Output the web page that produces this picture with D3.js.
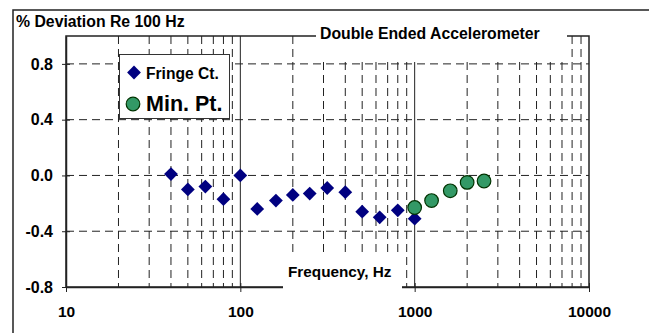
<!DOCTYPE html>
<html lang="en">
<head>
  <meta charset="UTF-8" />
  <title>Double Ended Accelerometer</title>
  <style>
    body {
      margin: 0;
      background: #fff;
    }

    text {
      font-family: 'Liberation Sans', Arial, sans-serif;
      font-weight: bold;
      fill: #000;
    }

    .grid {
      stroke: #222;
      stroke-width: 1;
      stroke-dasharray: 8, 5;
    }

    .major {
      stroke: #222;
      stroke-width: 1;
    }

    .frame {
      stroke: #222;
      stroke-width: 1.5;
      fill: none;
    }
  </style>
  <script src="https://d3js.org/d3.v7.min.js"></script>
</head>
<body>
  <svg id="chart"></svg>

  <script>
    // data
    const fringeFreq = [40, 50, 63, 80, 100, 125, 160, 200, 250, 315, 400, 500, 630, 800, 1000];
    const fringeDev = [0.01, -0.10, -0.08, -0.17, 0.00, -0.24, -0.18, -0.14, -0.13, -0.09, -0.12, -0.26, -0.30, -0.25, -0.31];
    const minFreq = [1000, 1250, 1600, 2000, 2500];
    const minDev = [-0.23, -0.18, -0.11, -0.05, -0.04];
    const seriesNames = ['Fringe Ct.', 'Min. Pt.'];
    const xTicks = [10, 100, 1000, 10000];
    const yTicks = [0.8, 0.4, 0.0, -0.4, -0.8];
    const yGrid = [0.8, 0.4, 0.0, -0.4];

    const width = 649;
    const height = 333;
    const plotLeft = 66, plotRight = 589, plotTop = 36, plotBottom = 287;

    const svg = d3.select('#chart').attr('width', width).attr('height', height);

    const x = d3.scaleLog().domain([10, 10000]).range([plotLeft, plotRight]);
    const y = d3.scaleLinear().domain([-0.8, 1.0]).range([plotBottom, plotTop]);

    // outer border (runs off the right and bottom edge)
    svg.append('path')
      .attr('class', 'frame')
      .attr('stroke-width', 2)
      .attr('d', `M13,${height + 5}V10H${width + 5}`);

    // minor vertical grid (2..9 in every decade)
    const minor = [];
    [10, 100, 1000].forEach((dec) => {
      for (let k = 2; k <= 9; k++) minor.push(dec * k);
    });

    svg.append('g')
      .selectAll('line')
      .data(minor)
      .join('line')
      .attr('class', 'grid')
      .attr('x1', (d) => x(d)).attr('x2', (d) => x(d))
      .attr('y1', plotTop).attr('y2', plotBottom);

    svg.append('g')
      .selectAll('line')
      .data([100, 1000])
      .join('line')
      .attr('class', 'major')
      .attr('x1', (d) => x(d)).attr('x2', (d) => x(d))
      .attr('y1', plotTop).attr('y2', plotBottom);

    svg.append('g')
      .selectAll('line')
      .data(yGrid)
      .join('line')
      .attr('class', 'grid')
      .attr('x1', plotLeft).attr('x2', plotRight)
      .attr('y1', (d) => y(d)).attr('y2', (d) => y(d));

    // plot frame
    svg.append('rect')
      .attr('class', 'frame')
      .attr('x', plotLeft).attr('y', plotTop)
      .attr('width', plotRight - plotLeft).attr('height', plotBottom - plotTop);

    // title box hides the grid under it
    svg.append('rect')
      .attr('x', 316).attr('y', 20)
      .attr('width', 251).attr('height', 42)
      .attr('fill', '#fff');
    svg.append('text')
      .attr('x', 320).attr('y', 39)
      .attr('font-size', '15.8px')
      .text('Double Ended Accelerometer');

    // axes
    const yAxis = d3.axisLeft(y)
      .tickValues(yTicks)
      .tickFormat((d) => d.toFixed(1))
      .tickSizeInner(4)
      .tickSizeOuter(0)
      .tickPadding(9);

    const gy = svg.append('g')
      .attr('transform', `translate(${plotLeft},0)`)
      .call(yAxis);
    gy.select('.domain').attr('stroke', '#222').attr('stroke-width', 1.5);
    gy.selectAll('.tick line').attr('x1', 4).attr('stroke', '#222');
    gy.selectAll('.tick text')
      .attr('font-size', '16px')
      .attr('font-family', "'Liberation Sans', Arial, sans-serif")
      .attr('font-weight', 'bold')
      .attr('fill', '#000');

    const xAxis = d3.axisBottom(x)
      .tickValues(xTicks)
      .tickFormat((d) => String(d))
      .tickSizeInner(5)
      .tickSizeOuter(0)
      .tickPadding(14);

    const gx = svg.append('g')
      .attr('transform', `translate(0,${plotBottom})`)
      .call(xAxis);
    gx.select('.domain').attr('stroke', '#222').attr('stroke-width', 1.5);
    gx.selectAll('.tick line').attr('y1', -4).attr('stroke', '#222');
    gx.selectAll('.tick text')
      .attr('font-size', '15.5px')
      .attr('font-family', "'Liberation Sans', Arial, sans-serif")
      .attr('font-weight', 'bold')
      .attr('fill', '#000');

    // x axis title with white box over the axis line
    svg.append('rect')
      .attr('x', 283).attr('y', 257)
      .attr('width', 119).attr('height', 34)
      .attr('fill', '#fff');
    svg.append('text')
      .attr('x', 288).attr('y', 277)
      .attr('font-size', '15.3px')
      .text('Frequency, Hz');

    // y axis title
    svg.append('text')
      .attr('x', 16).attr('y', 27)
      .attr('font-size', '15.8px')
      .text('% Deviation Re 100 Hz');

    // series
    const diamond = d3.symbol(d3.symbolSquare, 95);
    const fringe = fringeFreq.map((f, i) => ({ f, v: fringeDev[i] }));
    const minPt = minFreq.map((f, i) => ({ f, v: minDev[i] }));

    svg.append('g')
      .selectAll('path')
      .data(fringe)
      .join('path')
      .attr('d', diamond)
      .attr('fill', '#000080')
      .attr('transform', (d) => `translate(${x(d.f)},${y(d.v)}) rotate(45)`);

    svg.append('g')
      .selectAll('circle')
      .data(minPt)
      .join('circle')
      .attr('cx', (d) => x(d.f))
      .attr('cy', (d) => y(d.v))
      .attr('r', 6.8)
      .attr('fill', '#339966')
      .attr('stroke', '#003300')
      .attr('stroke-width', 1.2);

    // legend
    const legend = svg.append('g');
    legend.append('rect')
      .attr('x', 119.5).attr('y', 54.5)
      .attr('width', 110).attr('height', 64)
      .attr('fill', '#fff')
      .attr('stroke', '#333')
      .attr('stroke-width', 1);
    legend.append('path')
      .attr('d', diamond)
      .attr('fill', '#000080')
      .attr('transform', 'translate(134,72.5) rotate(45)');
    legend.append('text')
      .attr('x', 146).attr('y', 78.5)
      .attr('font-size', '15.6px')
      .text(seriesNames[0]);
    legend.append('circle')
      .attr('cx', 133).attr('cy', 104)
      .attr('r', 6.8)
      .attr('fill', '#339966')
      .attr('stroke', '#003300')
      .attr('stroke-width', 1.2);
    legend.append('text')
      .attr('x', 146).attr('y', 111)
      .attr('font-size', '21.5px')
      .text(seriesNames[1]);
  </script>
</body>
</html>
